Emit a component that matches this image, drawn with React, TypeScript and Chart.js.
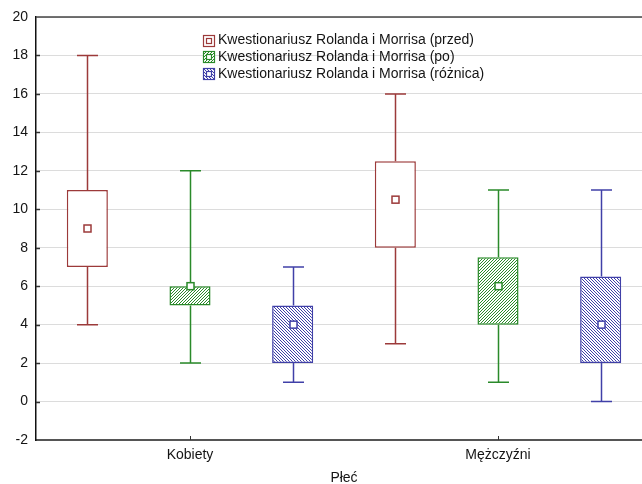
import { useEffect, useRef } from 'react';
import { Chart, registerables } from 'chart.js';

Chart.register(...registerables);

const categories = ['Kobiety', 'Mężczyźni'];
const seriesLabels = [
  'Kwestionariusz Rolanda i Morrisa (przed)',
  'Kwestionariusz Rolanda i Morrisa (po)',
  'Kwestionariusz Rolanda i Morrisa (różnica)',
];
const axisTitle = 'Płeć';

const przedMin = [4, 3];
const przedQ1 = [7, 8];
const przedMid = [9, 10.5];
const przedQ3 = [11, 12.5];
const przedMax = [18, 16];

const poMin = [2, 1];
const poQ1 = [5, 4];
const poMid = [6, 6];
const poQ3 = [6, 7.5];
const poMax = [12, 11];

const roznicaMin = [1, 0];
const roznicaQ1 = [2, 2];
const roznicaMid = [4, 4];
const roznicaQ3 = [5, 6.5];
const roznicaMax = [7, 11];

const yTicks = [-2, 0, 2, 4, 6, 8, 10, 12, 14, 16, 18, 20];

const colors = ['#9c3a3a', '#2a8a2a', '#4040a8'];
const textColor = '#141414';
const FONT = "'Liberation Sans', Arial, sans-serif";

const stats = [
  { min: przedMin, q1: przedQ1, mid: przedMid, q3: przedQ3, max: przedMax },
  { min: poMin, q1: poQ1, mid: poMid, q3: poQ3, max: poMax },
  { min: roznicaMin, q1: roznicaQ1, mid: roznicaMid, q3: roznicaQ3, max: roznicaMax },
];

function hatch(color: string, dir: 1 | -1, n: number): CanvasPattern | string {
  const c = document.createElement('canvas');
  c.width = n;
  c.height = n;
  const g = c.getContext('2d');
  if (!g) return '#fff';
  g.fillStyle = '#fff';
  g.fillRect(0, 0, n, n);
  g.fillStyle = color;
  for (let i = 0; i < n; i++) {
    const yy = dir === 1 ? n - 1 - i : i;
    g.fillRect(i, yy, 1, 1);
  }
  return g.createPattern(c, 'repeat') || '#fff';
}

export default function App() {
  const ref = useRef<HTMLCanvasElement | null>(null);

  useEffect(() => {
    if (!ref.current) return;
    const fills: (CanvasPattern | string)[] = ['#ffffff', hatch(colors[1], 1, 3), hatch(colors[2], -1, 3)];

    const boxPlugin = {
      id: 'boxWhiskers',
      afterDatasetsDraw(chart: any) {
        const { ctx } = chart;
        const y = chart.scales.y;
        stats.forEach((s, di) => {
          const meta = chart.getDatasetMeta(di);
          meta.data.forEach((bar: any, j: number) => {
            const x = Math.round(bar.x) + 0.5;
            const pMin = y.getPixelForValue(s.min[j]);
            const pQ1 = y.getPixelForValue(s.q1[j]);
            const pQ3 = y.getPixelForValue(s.q3[j]);
            const pMax = y.getPixelForValue(s.max[j]);
            const pMid = y.getPixelForValue(s.mid[j]);
            ctx.save();
            ctx.strokeStyle = colors[di];
            ctx.lineWidth = 1.5;
            ctx.beginPath();
            ctx.moveTo(x, pQ3);
            ctx.lineTo(x, pMax);
            ctx.moveTo(x, pQ1);
            ctx.lineTo(x, pMin);
            ctx.moveTo(x - 10.5, pMax);
            ctx.lineTo(x + 10.5, pMax);
            ctx.moveTo(x - 10.5, pMin);
            ctx.lineTo(x + 10.5, pMin);
            ctx.stroke();
            ctx.fillStyle = '#ffffff';
            ctx.fillRect(x - 3.5, pMid - 3.5, 7, 7);
            ctx.strokeRect(x - 3.5, pMid - 3.5, 7, 7);
            ctx.restore();
          });
        });
      },
      afterDraw(chart: any) {
        const { ctx, chartArea } = chart;
        const xs = chart.scales.x;
        const ys = chart.scales.y;
        ctx.save();
        ctx.strokeStyle = '#444';
        ctx.lineWidth = 1.5;
        ctx.beginPath();
        ctx.moveTo(chartArea.left, chartArea.top);
        ctx.lineTo(chartArea.right, chartArea.top);
        ctx.stroke();
        ctx.strokeStyle = '#333';
        ctx.lineWidth = 1;
        categories.forEach((_, i) => {
          const px = Math.round(xs.getPixelForValue(i)) + 0.5;
          ctx.beginPath();
          ctx.moveTo(px, chartArea.bottom);
          ctx.lineTo(px, chartArea.bottom - 4);
          ctx.stroke();
        });
        ctx.lineWidth = 1.5;
        yTicks.forEach((v) => {
          if (v === yTicks[0] || v === yTicks[yTicks.length - 1]) return;
          const py = Math.round(ys.getPixelForValue(v)) + 0.5;
          ctx.beginPath();
          ctx.moveTo(chartArea.left, py);
          ctx.lineTo(chartArea.left + 4, py);
          ctx.stroke();
        });
        // legend
        const lx = 203;
        const ly0 = 40;
        const dy = 16.8;
        ctx.font = `14px ${FONT}`;
        ctx.textBaseline = 'middle';
        ctx.textAlign = 'left';
        seriesLabels.forEach((label, i) => {
          const cy = ly0 + i * dy;
          const top = Math.round(cy - 5.5) + 0.5;
          ctx.fillStyle = fills[i];
          ctx.fillRect(lx, top, 11, 11);
          ctx.strokeStyle = colors[i];
          ctx.lineWidth = 1.2;
          ctx.strokeRect(lx + 0.5, top, 11, 11);
          ctx.fillStyle = '#fff';
          ctx.fillRect(lx + 3.5, top + 3, 5, 5);
          ctx.strokeRect(lx + 3.5, top + 3, 5, 5);
          ctx.fillStyle = textColor;
          ctx.fillText(label, 218, cy + 0.5);
        });
        ctx.restore();
      },
    };

    const chart = new Chart(ref.current, {
      type: 'bar',
      data: {
        labels: categories,
        datasets: stats.map((s, di) => ({
          label: seriesLabels[di],
          data: categories.map((_, j) => [s.q1[j], s.q3[j]]) as any,
          backgroundColor: fills[di] as any,
          borderColor: colors[di],
          borderWidth: 1.5,
          borderSkipped: false,
          categoryPercentage: 1,
          barPercentage: 0.4,
        })),
      },
      options: {
        animation: false,
        responsive: false,
        maintainAspectRatio: false,
        layout: { padding: { top: 17, right: 8, left: 0, bottom: 0 } },
        plugins: {
          legend: { display: false },
          tooltip: { enabled: false },
        },
        scales: {
          x: {
            type: 'category',
            offset: true,
            grid: { drawOnChartArea: false, drawTicks: false },
            border: { color: '#555', width: 2 },
            ticks: { color: textColor, font: { family: FONT, size: 14 }, padding: 7 },
            title: {
              display: true,
              text: axisTitle,
              color: textColor,
              font: { family: FONT, size: 14 },
              padding: { top: 4, bottom: -3 },
            },
            afterFit: (s: any) => {
              s.height = 44;
            },
          },
          y: {
            type: 'linear',
            min: yTicks[0],
            max: yTicks[yTicks.length - 1],
            afterBuildTicks: (s: any) => {
              s.ticks = yTicks.map((v) => ({ value: v }));
            },
            grid: {
              color: '#b8b8b8',
              lineWidth: 1,
              drawTicks: false,
            },
            border: { color: '#111', width: 1.5, dash: [1, 1] },
            ticks: { color: textColor, font: { family: FONT, size: 14 }, padding: 8 },
            afterFit: (s: any) => {
              s.width = 36;
            },
          },
        },
      },
      plugins: [boxPlugin],
    });
    return () => chart.destroy();
  }, []);

  return (
    <div style={{ position: 'fixed', left: 0, top: 0, width: 642, height: 484, overflow: 'hidden', background: '#fff' }}>
      <canvas ref={ref} width={660} height={484} style={{ display: 'block', width: 660, height: 484 }} />
    </div>
  );
}
